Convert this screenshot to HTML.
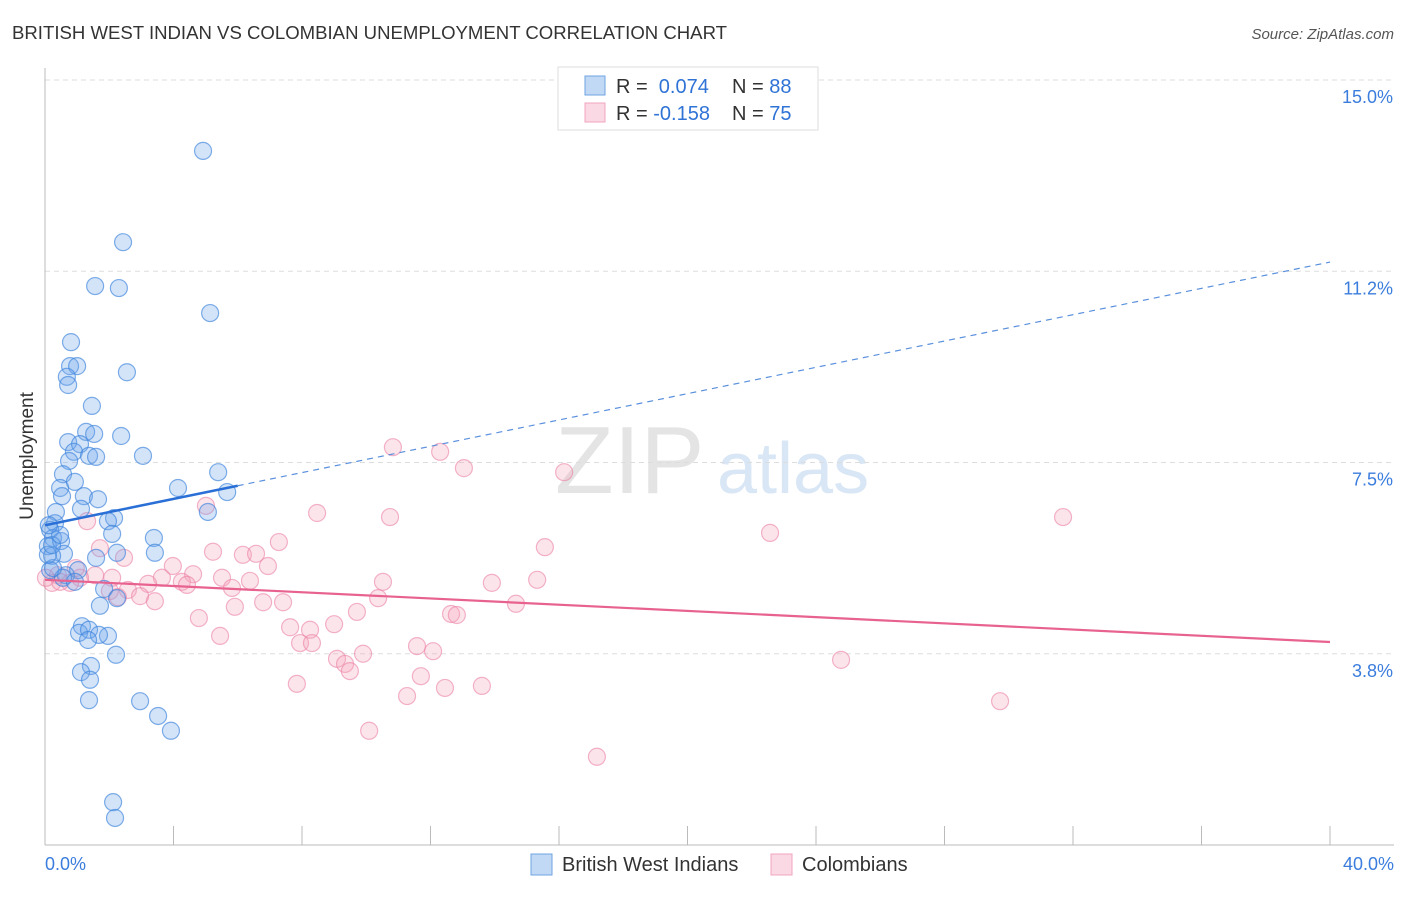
<!DOCTYPE html>
<html><head><meta charset="utf-8"><style>
body{margin:0;background:#fff;font-family:"Liberation Sans",sans-serif;}
svg text{font-family:"Liberation Sans",sans-serif;}
</style></head><body>
<svg id="chart" width="1406" height="892">
<text x="12" y="39" font-size="18" textLength="715" lengthAdjust="spacingAndGlyphs" fill="#333">BRITISH WEST INDIAN VS COLOMBIAN UNEMPLOYMENT CORRELATION CHART</text>
<text x="1394" y="39" font-size="15" fill="#555" text-anchor="end" font-style="italic">Source: ZipAtlas.com</text>
<text transform="translate(33,456) rotate(-90)" font-size="19" fill="#333" text-anchor="middle">Unemployment</text>
<g>
<text x="555" y="493" font-size="96" fill="#e4e4e4" font-family="Liberation Serif,serif">ZIP</text>
<text x="717" y="493" font-size="72" fill="#d8e6f5">atlas</text>
</g>
<g id="grid"></g><g id="axes"></g><g id="pts"></g><g id="trend"></g>
<g>
<rect x="558" y="67" width="260" height="63" fill="#fff" stroke="#ddd"/>
<rect x="585" y="76" width="20" height="19" fill="rgba(120,170,235,0.45)" stroke="#6fa3e3"/>
<rect x="585" y="103" width="20" height="19" fill="rgba(245,170,195,0.45)" stroke="#f2a4bf"/>
<text x="616" y="93" font-size="20" fill="#333">R = <tspan fill="#2f73d6">&#160;0.074</tspan><tspan x="732">N = </tspan><tspan fill="#2f73d6">88</tspan></text>
<text x="616" y="120" font-size="20" fill="#333">R = <tspan fill="#2f73d6">-0.158</tspan><tspan x="732">N = </tspan><tspan fill="#2f73d6">75</tspan></text>
</g>
<g>
<rect x="531" y="854" width="21" height="21" fill="rgba(120,170,235,0.45)" stroke="#6fa3e3"/>
<text x="562" y="871" font-size="20" fill="#333">British West Indians</text>
<rect x="771" y="854" width="21" height="21" fill="rgba(245,170,195,0.45)" stroke="#f2a4bf"/>
<text x="802" y="871" font-size="20" fill="#333">Colombians</text>
</g>
</svg>
<script>
const yTicks=[3.75,7.5,11.25,15];
const yTickLabels=["3.8%","7.5%","11.2%","15.0%"];
const xTickLabels=["0.0%","40.0%"];
const bwiX=[4.92,2.43,1.56,2.30,5.14,0.81,0.78,1.00,0.68,0.72,2.55,1.46,2.37,1.28,0.72,1.09,1.53,0.90,1.37,1.59,3.05,0.75,0.56,0.93,0.47,0.53,1.21,1.65,4.14,5.39,5.67,1.12,0.34,5.07,2.15,1.96,0.31,2.09,0.16,0.25,0.09,3.39,0.50,0.59,0.22,1.59,2.24,3.42,0.16,1.03,0.65,0.56,0.93,1.84,2.24,1.71,1.15,1.06,1.37,1.96,1.68,1.34,2.21,1.43,1.12,1.40,1.37,2.96,3.52,3.92,2.12,2.18,0.25,0.09,0.22,0.47,0.12];
const bwiY=[13.61,11.82,10.96,10.92,10.43,9.86,9.39,9.39,9.18,9.02,9.27,8.61,8.02,8.10,7.90,7.86,8.06,7.71,7.63,7.61,7.63,7.53,7.27,7.12,7.00,6.84,6.84,6.78,7.00,7.31,6.92,6.59,6.53,6.53,6.41,6.35,6.31,6.10,6.18,6.02,5.86,6.02,5.96,5.71,5.67,5.63,5.73,5.73,5.39,5.39,5.29,5.24,5.16,5.02,4.84,4.69,4.29,4.16,4.22,4.10,4.12,4.02,3.73,3.51,3.39,3.24,2.84,2.82,2.53,2.24,0.84,0.53,5.43,5.69,5.88,6.08,6.27];
const colX=[10.83,12.30,13.04,16.16,5.01,8.47,10.74,31.69,22.57,1.31,1.71,2.46,5.23,6.16,6.57,7.28,6.94,15.56,3.98,4.61,3.64,4.26,5.51,6.38,5.82,4.42,3.21,10.52,13.91,15.32,2.09,1.56,1.09,0.40,0.22,0.78,2.02,2.58,2.96,2.27,3.42,5.91,6.79,7.41,10.37,9.71,12.64,12.82,14.66,4.79,7.63,9.00,8.25,5.45,7.94,8.31,11.58,12.08,9.09,9.90,9.34,9.49,24.78,11.70,7.84,12.45,13.60,11.27,29.73,10.09,17.18,0.96,0.47,0.03];
const colY=[7.80,7.71,7.39,7.31,6.65,6.51,6.43,6.43,6.12,6.35,5.82,5.63,5.75,5.69,5.71,5.94,5.47,5.84,5.47,5.31,5.24,5.16,5.24,5.18,5.04,5.10,5.12,5.16,5.14,5.20,5.24,5.29,5.24,5.29,5.14,5.14,4.98,5.00,4.88,4.86,4.78,4.67,4.76,4.76,4.84,4.57,4.53,4.51,4.73,4.45,4.27,4.33,4.22,4.10,3.96,3.96,3.90,3.80,3.65,3.75,3.55,3.41,3.63,3.31,3.16,3.08,3.12,2.92,2.82,2.24,1.73,5.43,5.16,5.24];
const bwiTrend=[6.27,11.43]; const bwiSolidEnd=6.0;
const colTrend=[5.20,3.98];
const NS="http://www.w3.org/2000/svg";
const X=v=>45+v*(1285/40), Y=v=>80+(15-v)*51;
function mk(t,a,p){const e=document.createElementNS(NS,t);for(const k in a)e.setAttribute(k,a[k]);document.getElementById(p).appendChild(e);return e;}
yTicks.forEach((t,i)=>{
 const l=mk('line',{x1:45,x2:1394,y1:Y(t),y2:Y(t),stroke:'#ddd','stroke-dasharray':'5,4'},'grid');
 
 
 const tx=mk('text',{x:1393,y:Y(t)+23,'font-size':18,fill:'#3b7ddd','text-anchor':'end'},'axes');tx.textContent=yTickLabels[i];
 
 
});
mk('line',{x1:45,x2:45,y1:68,y2:845,stroke:'#bbb'},'axes');
mk('line',{x1:45,x2:1394,y1:845,y2:845,stroke:'#bbb'},'axes');
for(let i=1;i<=10;i++){const t=mk('line',{x1:X(i*4),x2:X(i*4),y1:826,y2:845,stroke:'#bbb'},'axes');
 
 }
const xl0=mk('text',{x:45,y:870,'font-size':18,fill:'#3b7ddd'},'axes');xl0.textContent=xTickLabels[0];


const xl1=mk('text',{x:1394,y:870,'font-size':18,fill:'#3b7ddd','text-anchor':'end'},'axes');xl1.textContent=xTickLabels[1];


colX.forEach((x,i)=>{const c=mk('circle',{cx:X(x),cy:Y(colY[i]),r:8.5,fill:'rgba(245,165,190,0.3)',stroke:'rgba(235,130,165,0.6)','stroke-width':1.2},'pts');
 
 });
bwiX.forEach((x,i)=>{const c=mk('circle',{cx:X(x),cy:Y(bwiY[i]),r:8.5,fill:'rgba(110,165,235,0.3)',stroke:'rgba(60,130,220,0.65)','stroke-width':1.2},'pts');
 
 });
const by=x=>bwiTrend[0]+(bwiTrend[1]-bwiTrend[0])*x/40;
const bs=mk('line',{x1:X(0),y1:Y(by(0)),x2:X(bwiSolidEnd),y2:Y(by(bwiSolidEnd)),stroke:'#2a6fd6','stroke-width':2.5},'trend');


const bd=mk('line',{x1:X(bwiSolidEnd),y1:Y(by(bwiSolidEnd)),x2:X(40),y2:Y(by(40)),stroke:'#5a90dd','stroke-width':1.2,'stroke-dasharray':'6,5'},'trend');


const ct=mk('line',{x1:X(0),y1:Y(colTrend[0]),x2:X(40),y2:Y(colTrend[1]),stroke:'#e8628f','stroke-width':2.2},'trend');


</script>
</body></html>
